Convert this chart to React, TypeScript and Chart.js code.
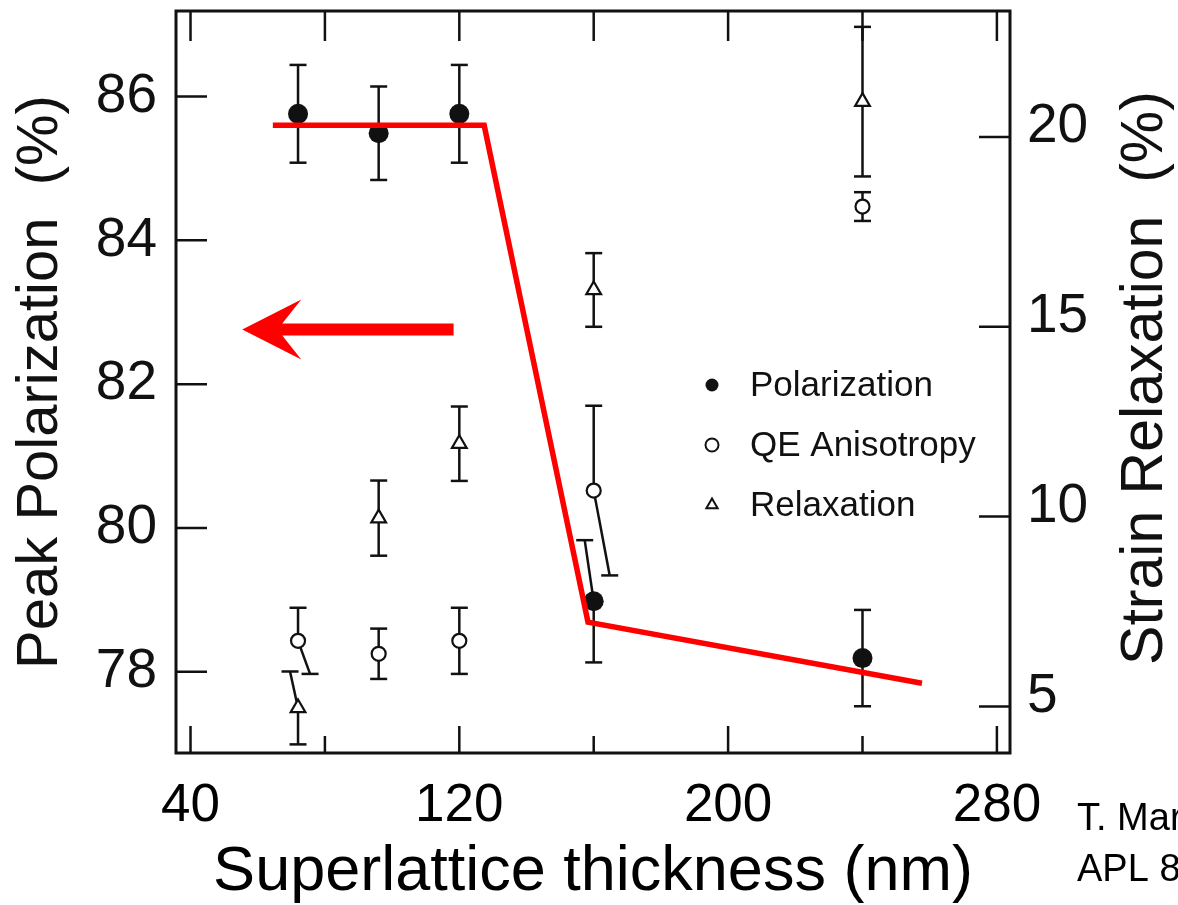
import { useEffect, useRef } from 'react';
import { Chart, registerables } from 'chart.js';

Chart.register(...registerables);

// Superlattice thickness of each sample (nm)
const THICKNESS_NM = [72, 96, 120, 160, 240];

// Peak polarization (%) with symmetric error
const POLARIZATION = [85.76, 85.49, 85.76, 78.98, 78.19];
const POLARIZATION_ERR = [0.68, 0.65, 0.68, 0.85, 0.67];

// QE anisotropy, plotted against the left axis
const QE_ANISOTROPY = [78.43, 78.25, 78.43, 80.52, 84.47];
const QE_ANISOTROPY_ERR = [0.46, 0.35, 0.46, 1.18, 0.2];

// Strain relaxation (%), right axis
const RELAXATION = [4.96, 9.96, 11.92, 15.97, 20.93];
const RELAXATION_ERR = [0.96, 0.99, 0.98, 0.97, 1.97];

// Red guide line drawn over the polarization data
const TREND_X = [64.5, 127.4, 158.3, 257.7];
const TREND_Y = [85.6, 85.6, 78.69, 77.84];

// Axis ticks
const X_TICKS = [40, 80, 120, 160, 200, 240, 280];
const X_TICK_LABELS = [40, 120, 200, 280];
const LEFT_TICKS = [78, 80, 82, 84, 86];
const RIGHT_TICKS = [5, 10, 15, 20];

// Axis ranges
const X_RANGE = [35.68, 283.9];
const LEFT_RANGE = [76.87, 87.19];
const RIGHT_RANGE = [3.773, 23.318];

// Arrow pointing at the left (polarization) axis, in data units
const ARROW_TAIL = { x: 118.3, y: 82.76 };
const ARROW_HEAD = { x: 55.4, y: 82.76 };

const FONT = "'Liberation Sans', Arial, Helvetica, sans-serif";
const INK = '#111111';
const RED = '#ff0000';
const CAP = 8.5;

const ERROR_SERIES = [
  { values: POLARIZATION, err: POLARIZATION_ERR, axis: 'y' },
  { values: QE_ANISOTROPY, err: QE_ANISOTROPY_ERR, axis: 'y' },
  { values: RELAXATION, err: RELAXATION_ERR, axis: 'y2' },
];

// A few error-bar ends are drawn slanted sideways (pixels) so they don't overlap
type Skew = { series: number; index: number; end: 'low' | 'high'; dx: number };
const ERR_SKEW: Skew[] = [
  { series: 1, index: 0, end: 'low', dx: 12 },
  { series: 2, index: 0, end: 'high', dx: -8 },
  { series: 0, index: 3, end: 'high', dx: -9 },
  { series: 1, index: 3, end: 'low', dx: 16 },
];

const LEGEND = [
  { label: 'Polarization', marker: 'dot' },
  { label: 'QE Anisotropy', marker: 'ring' },
  { label: 'Relaxation', marker: 'tri' },
];

function drawMarker(ctx: CanvasRenderingContext2D, kind: string, x: number, y: number, r: number) {
  ctx.beginPath();
  if (kind === 'tri') {
    for (let k = 0; k < 3; k++) {
      const ang = (k * 2 * Math.PI) / 3;
      const px = x + Math.sin(ang) * r;
      const py = y - Math.cos(ang) * r;
      if (k === 0) ctx.moveTo(px, py);
      else ctx.lineTo(px, py);
    }
    ctx.closePath();
  } else {
    ctx.arc(x, y, r, 0, Math.PI * 2);
  }
  if (kind === 'dot') {
    ctx.fillStyle = INK;
    ctx.fill();
  } else {
    ctx.fillStyle = '#fff';
    ctx.fill();
    ctx.lineWidth = 2;
    ctx.strokeStyle = INK;
    ctx.stroke();
  }
}

const overlayPlugin = {
  id: 'overlay',
  beforeDatasetsDraw(chart: any) {
    const { ctx, chartArea: a, scales } = chart;
    const xs = scales.x;
    ctx.save();
    ctx.strokeStyle = INK;
    ctx.lineCap = 'butt';

    // error bars
    ctx.lineWidth = 2.5;
    ERROR_SERIES.forEach((s, si) => {
      const ys = scales[s.axis];
      THICKNESS_NM.forEach((t, i) => {
        const px = xs.getPixelForValue(t);
        const py = ys.getPixelForValue(s.values[i]);
        (['low', 'high'] as const).forEach((end) => {
          const v = end === 'low' ? s.values[i] - s.err[i] : s.values[i] + s.err[i];
          const ey = ys.getPixelForValue(v);
          const skew = ERR_SKEW.find((k) => k.series === si && k.index === i && k.end === end);
          const ex = px + (skew ? skew.dx : 0);
          ctx.beginPath();
          ctx.moveTo(px, py);
          ctx.lineTo(ex, ey);
          ctx.stroke();
          ctx.beginPath();
          ctx.moveTo(ex - CAP, ey);
          ctx.lineTo(ex + CAP, ey);
          ctx.stroke();
        });
      });
    });

    // frame
    ctx.lineWidth = 3;
    ctx.strokeRect(a.left, a.top, a.right - a.left, a.bottom - a.top);

    // inward tick marks
    ctx.lineWidth = 2.5;
    ctx.beginPath();
    xs.ticks.forEach((tk: any) => {
      const px = xs.getPixelForValue(tk.value);
      const len = X_TICK_LABELS.includes(tk.value) ? 27 : 17;
      ctx.moveTo(px, a.bottom);
      ctx.lineTo(px, a.bottom - len);
      ctx.moveTo(px, a.top);
      ctx.lineTo(px, a.top + 30);
    });
    scales.y.ticks.forEach((tk: any) => {
      const py = scales.y.getPixelForValue(tk.value);
      ctx.moveTo(a.left, py);
      ctx.lineTo(a.left + 31, py);
    });
    scales.y2.ticks.forEach((tk: any) => {
      const py = scales.y2.getPixelForValue(tk.value);
      ctx.moveTo(a.right, py);
      ctx.lineTo(a.right - 31, py);
    });
    ctx.stroke();
    ctx.restore();
  },
  afterDraw(chart: any) {
    const { ctx, chartArea: a, scales } = chart;
    ctx.save();

    // legend
    ctx.font = `35px ${FONT}`;
    ctx.textBaseline = 'middle';
    ctx.textAlign = 'left';
    LEGEND.forEach((item, i) => {
      const y = a.top + 374 + i * 60;
      drawMarker(ctx, item.marker, a.left + 536, y, 6.5);
      ctx.fillStyle = INK;
      ctx.fillText(item.label, a.left + 574, y + 1);
    });

    // right axis title, reading bottom to top
    ctx.save();
    ctx.translate(a.right + 152, (a.top + a.bottom) / 2 - 4);
    ctx.rotate(-Math.PI / 2);
    ctx.font = `59px ${FONT}`;
    ctx.textAlign = 'center';
    ctx.textBaseline = 'alphabetic';
    ctx.fillStyle = INK;
    ctx.fillText('Strain Relaxation  (%)', 0, 0);
    ctx.restore();

    // citation
    ctx.font = `38px ${FONT}`;
    ctx.textAlign = 'left';
    ctx.textBaseline = 'alphabetic';
    ctx.fillStyle = '#000';
    ctx.fillText('T. Maruyama', a.right + 67, a.bottom + 77);
    ctx.fillText('APL 85', a.right + 67, a.bottom + 128);

    // red arrow
    const tx = scales.x.getPixelForValue(ARROW_HEAD.x);
    const ty = scales.y.getPixelForValue(ARROW_HEAD.y);
    const ex = scales.x.getPixelForValue(ARROW_TAIL.x);
    ctx.fillStyle = RED;
    ctx.beginPath();
    ctx.moveTo(tx, ty);
    ctx.lineTo(tx + 59, ty - 30);
    ctx.lineTo(tx + 40, ty - 6);
    ctx.lineTo(ex, ty - 6);
    ctx.lineTo(ex, ty + 6);
    ctx.lineTo(tx + 40, ty + 6);
    ctx.lineTo(tx + 59, ty + 30);
    ctx.closePath();
    ctx.fill();

    ctx.restore();
  },
};

export default function App() {
  const ref = useRef<HTMLCanvasElement | null>(null);

  useEffect(() => {
    if (!ref.current) return;
    const pts = (ys: number[]) => THICKNESS_NM.map((x, i) => ({ x, y: ys[i] }));
    const tickFont = { family: FONT, size: 55 };

    const chart = new Chart(ref.current, {
      type: 'scatter',
      data: {
        datasets: [
          {
            label: 'Guide',
            data: TREND_X.map((x, i) => ({ x, y: TREND_Y[i] })),
            showLine: true,
            borderColor: RED,
            borderWidth: 5.5,
            pointRadius: 0,
            yAxisID: 'y',
            order: 0,
          },
          {
            label: 'Polarization',
            data: pts(POLARIZATION),
            pointStyle: 'circle',
            pointRadius: 10,
            backgroundColor: INK,
            borderWidth: 0,
            yAxisID: 'y',
            order: 1,
          },
          {
            label: 'QE Anisotropy',
            data: pts(QE_ANISOTROPY),
            pointStyle: 'circle',
            pointRadius: 7,
            backgroundColor: '#fff',
            borderColor: INK,
            borderWidth: 2.2,
            yAxisID: 'y',
            order: 2,
          },
          {
            label: 'Relaxation',
            data: pts(RELAXATION),
            pointStyle: 'triangle',
            pointRadius: 8.5,
            backgroundColor: '#fff',
            borderColor: INK,
            borderWidth: 2.2,
            yAxisID: 'y2',
            order: 3,
          },
        ],
      },
      options: {
        responsive: false,
        devicePixelRatio: 1,
        animation: false,
        layout: { padding: { top: 11, left: 0, right: 0, bottom: 0 } },
        plugins: { legend: { display: false }, tooltip: { enabled: false } },
        scales: {
          x: {
            type: 'linear',
            position: 'bottom',
            min: X_RANGE[0],
            max: X_RANGE[1],
            afterBuildTicks: (s: any) => {
              s.ticks = X_TICKS.map((value) => ({ value }));
            },
            afterFit: (s: any) => {
              s.height = 152;
              s.paddingLeft = 0;
              s.paddingRight = 0;
            },
            grid: { display: false, drawTicks: false },
            border: { display: false },
            ticks: {
              autoSkip: false,
              maxRotation: 0,
              padding: 22,
              color: '#000',
              font: { family: FONT, size: 53 },
              callback: (v: any) => (X_TICK_LABELS.includes(Number(v)) ? String(v) : ''),
            },
            title: {
              display: true,
              text: 'Superlattice thickness (nm)',
              color: '#000',
              font: { family: FONT, size: 63, lineHeight: 1 },
              padding: { top: 0, bottom: 1 },
            },
          },
          y: {
            type: 'linear',
            position: 'left',
            min: LEFT_RANGE[0],
            max: LEFT_RANGE[1],
            afterBuildTicks: (s: any) => {
              s.ticks = LEFT_TICKS.map((value) => ({ value }));
            },
            afterFit: (s: any) => {
              s.width = 176;
              s.paddingTop = 0;
              s.paddingBottom = 0;
            },
            grid: { display: false, drawTicks: false },
            border: { display: false },
            ticks: { padding: 19, color: INK, font: tickFont },
            title: {
              display: true,
              text: 'Peak Polarization  (%)',
              color: INK,
              font: { family: FONT, size: 58, lineHeight: 1 },
              padding: { top: 12, bottom: 0 },
            },
          },
          y2: {
            type: 'linear',
            position: 'right',
            min: RIGHT_RANGE[0],
            max: RIGHT_RANGE[1],
            afterBuildTicks: (s: any) => {
              s.ticks = RIGHT_TICKS.map((value) => ({ value }));
            },
            afterFit: (s: any) => {
              s.width = 168;
              s.paddingTop = 0;
              s.paddingBottom = 0;
            },
            grid: { display: false, drawTicks: false },
            border: { display: false },
            ticks: { padding: 17, labelOffset: -10, color: INK, font: tickFont },
          },
        },
      },
      plugins: [overlayPlugin],
    } as any);

    return () => chart.destroy();
  }, []);

  return (
    <div style={{ position: 'fixed', left: 0, top: 0, width: 1178, height: 905, background: '#fff' }}>
      <canvas ref={ref} width={1178} height={905} style={{ display: 'block', width: 1178, height: 905 }} />
    </div>
  );
}
